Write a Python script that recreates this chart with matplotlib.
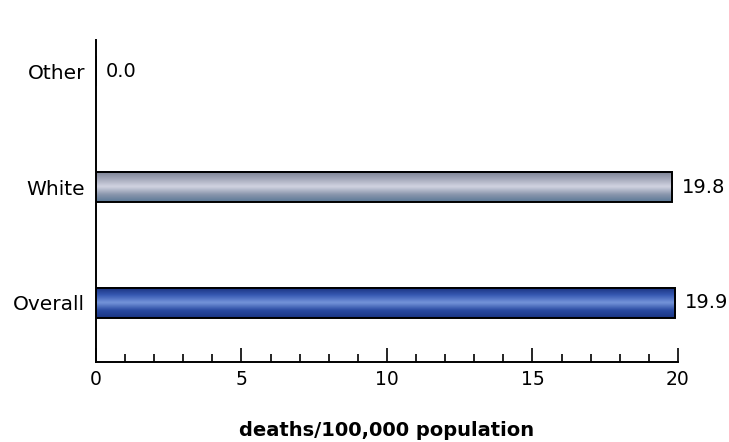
import matplotlib
matplotlib.use("Agg")
import matplotlib.pyplot as plt
import numpy as np
from matplotlib.colors import LinearSegmentedColormap

categories = ["Overall", "White", "Other"]
values = [19.9, 19.8, 0.0]
value_labels = ["19.9", "19.8", "0.0"]

# vertical shading stops (bottom -> top) for each bar
shades = {
    "Overall": ["#1a3584", "#2a4ba2", "#7595da", "#3658b2", "#18307c"],
    "White": ["#5a7896", "#8c98ae", "#d2d4e2", "#a4a8ba", "#7a8092"],
    "Other": ["#ffffff", "#ffffff"],
}

plt.rcParams["font.family"] = ["DejaVu Sans"]

fig = plt.figure(figsize=(7.29, 4.42), dpi=100)
ax = fig.add_axes([0.1317, 0.181, 0.7983, 0.7285])

y = np.arange(len(categories))
bars = ax.barh(y, values, height=0.26, color="none", edgecolor="black", linewidth=1.4, zorder=3)

# cylinder-like shading clipped to each bar
grad = np.linspace(0, 1, 64).reshape(-1, 1)
for bar, cat in zip(bars, categories):
    w = bar.get_width()
    if w <= 0:
        continue
    cmap = LinearSegmentedColormap.from_list(cat, shades[cat])
    x0, y0 = bar.get_x(), bar.get_y()
    h = bar.get_height()
    ax.imshow(grad, extent=[x0, x0 + w, y0, y0 + h], origin="lower", cmap=cmap,
              aspect="auto", zorder=2, interpolation="bicubic")

for yi, v, lab in zip(y, values, value_labels):
    ax.annotate(lab, (v, yi), xytext=(7, 0), textcoords="offset points",
                va="center", ha="left", fontsize=14)

ax.set_xlim(0, 20)
ax.set_ylim(-0.51, 2.27)
ax.set_xticks([0, 5, 10, 15, 20])
ax.set_xticks(np.arange(0, 21, 1), minor=True)
ax.set_yticks(y)
ax.set_yticklabels(categories)
ax.tick_params(axis="x", which="major", direction="in", length=10, width=1.2,
               labelsize=13.5, pad=6)
ax.tick_params(axis="x", which="minor", direction="in", length=6, width=1.2)
ax.tick_params(axis="y", length=0, labelsize=14.5, pad=8)
for s in ["top", "right"]:
    ax.spines[s].set_visible(False)
for s in ["left", "bottom"]:
    ax.spines[s].set_linewidth(1.4)
ax.set_xlabel("deaths/100,000 population", fontsize=14, fontweight="bold", labelpad=23)

fig.savefig("out.png", dpi=100)
